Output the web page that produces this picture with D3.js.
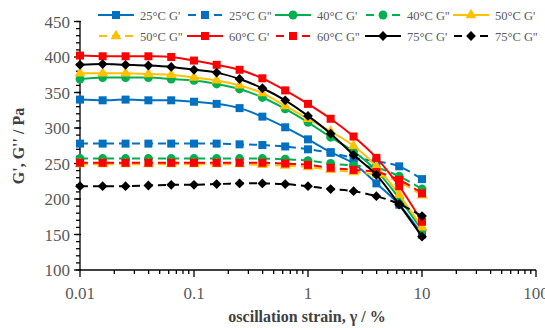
<!DOCTYPE html>
<html>
<head>
<meta charset="utf-8">
<script src="https://cdn.jsdelivr.net/npm/d3@7"></script>
<style>
  body { margin: 0; background: #fff; }
  svg { display: block; font-family: "Liberation Serif", "Times New Roman", serif; }
</style>
</head>
<body>
<div id="chart"></div>
<script>
// oscillation strain (%) for each measured point
const strain = [0.01, 0.0158, 0.0251, 0.0398, 0.0631, 0.1, 0.158, 0.251, 0.398, 0.631, 1, 1.58, 2.51, 3.98, 6.31, 10];

const g25Storage = [340, 339, 340, 339, 339, 337, 334, 328, 316, 301, 284, 266, 250, 222, 192, 150];
const g25Loss    = [278, 278, 278, 278, 278, 278, 278, 277, 276, 274, 270, 265, 258, 253, 246, 228];
const g40Storage = [369, 371, 371, 371, 369, 367, 362, 355, 343, 327, 308, 287, 267, 240, 201, 156];
const g40Loss    = [257, 257, 257, 257, 257, 257, 257, 257, 257, 256, 254, 250, 247, 244, 232, 214];
const g50Storage = [377, 377, 377, 376, 375, 371, 367, 360, 349, 331, 313, 295, 275, 246, 206, 160];
const g50Loss    = [249, 249, 249, 249, 249, 249, 249, 249, 248, 247, 245, 241, 238, 234, 224, 205];
const g60Storage = [402, 401, 401, 401, 400, 395, 389, 382, 370, 353, 334, 313, 288, 258, 218, 168];
const g60Loss    = [251, 251, 251, 251, 251, 251, 251, 251, 251, 250, 248, 244, 241, 238, 227, 208];
const g75Storage = [389, 390, 389, 388, 386, 382, 378, 369, 356, 339, 317, 292, 262, 234, 192, 147];
const g75Loss    = [218, 218, 218, 219, 220, 220, 221, 222, 222, 221, 218, 214, 211, 204, 193, 176];

const xTicks = [0.01, 0.1, 1, 10, 100];
const yTicks = [100, 150, 200, 250, 300, 350, 400, 450];

const series = [
  { name: "25°C G'",  values: g25Storage, color: "#0070C0", dashed: false, mark: "square" },
  { name: "25°C G''", values: g25Loss,    color: "#0070C0", dashed: true,  mark: "square" },
  { name: "40°C G'",  values: g40Storage, color: "#00B050", dashed: false, mark: "circle" },
  { name: "40°C G''", values: g40Loss,    color: "#00B050", dashed: true,  mark: "circle" },
  { name: "50°C G'",  values: g50Storage, color: "#FFC000", dashed: false, mark: "triangle" },
  { name: "50°C G''", values: g50Loss,    color: "#FFC000", dashed: true,  mark: "triangle" },
  { name: "60°C G'",  values: g60Storage, color: "#FF0000", dashed: false, mark: "square" },
  { name: "60°C G''", values: g60Loss,    color: "#FF0000", dashed: true,  mark: "square" },
  { name: "75°C G'",  values: g75Storage, color: "#000000", dashed: false, mark: "diamond" },
  { name: "75°C G''", values: g75Loss,    color: "#000000", dashed: true,  mark: "diamond" }
];

const width = 545, height = 328;
const x = d3.scaleLog().domain([0.01, 100]).range([80, 536]);
const y = d3.scaleLinear().domain([100, 450]).range([270, 21.5]);

const svg = d3.select("#chart").append("svg")
  .attr("width", width)
  .attr("height", height);

function symbolPath(mark) {
  if (mark === "circle") return d3.symbol(d3.symbolCircle, 62)();
  if (mark === "triangle") return d3.symbol(d3.symbolTriangle, 52)();
  if (mark === "diamond") return d3.symbol(d3.symbolSquare, 48)();
  return d3.symbol(d3.symbolSquare, 64)();
}

// axes
const tickColor = "#595959";
const xAxis = svg.append("g").attr("transform", `translate(0,${y(100)})`);
xAxis.append("line").attr("x1", x(0.01)).attr("x2", x(100)).attr("stroke", "#000").attr("stroke-width", 1.3);
const xMinor = [];
for (let dec = 0.01; dec < 100; dec *= 10) for (let k = 2; k < 10; k++) xMinor.push(+(dec * k).toPrecision(3));
xAxis.selectAll(".minor").data(xMinor).join("line")
  .attr("x1", d => x(d)).attr("x2", d => x(d)).attr("y1", 0).attr("y2", 4)
  .attr("stroke", "#000").attr("stroke-width", 1.3);
xAxis.selectAll(".major").data(xTicks).join("line")
  .attr("x1", d => x(d)).attr("x2", d => x(d)).attr("y1", 0).attr("y2", 7)
  .attr("stroke", "#000").attr("stroke-width", 1.3);
xAxis.selectAll("text").data(xTicks).join("text")
  .attr("x", d => x(d)).attr("y", 29)
  .attr("text-anchor", "middle").attr("fill", tickColor).attr("font-size", 17)
  .text(d => d3.format("~g")(d));

const yAxis = svg.append("g").attr("transform", `translate(${x(0.01)},0)`);
yAxis.append("line").attr("y1", y(100)).attr("y2", y(450)).attr("stroke", "#000").attr("stroke-width", 1.3);
yAxis.selectAll(".minor").data(d3.range(100, 451, 10)).join("line")
  .attr("y1", d => y(d)).attr("y2", d => y(d)).attr("x1", -4).attr("x2", 0)
  .attr("stroke", "#000").attr("stroke-width", 1.3);
yAxis.selectAll(".major").data(yTicks).join("line")
  .attr("y1", d => y(d)).attr("y2", d => y(d)).attr("x1", -6).attr("x2", 1)
  .attr("stroke", "#000").attr("stroke-width", 1.3);
yAxis.selectAll("text").data(yTicks).join("text")
  .attr("x", -10).attr("y", d => y(d) + 6)
  .attr("text-anchor", "end").attr("fill", tickColor).attr("font-size", 17)
  .text(d => d);

// axis titles
svg.append("text")
  .attr("x", 307).attr("y", 322)
  .attr("text-anchor", "middle").attr("font-weight", "bold").attr("font-size", 16).attr("fill", "#404040")
  .text("oscillation strain, γ / %");
svg.append("text")
  .attr("transform", `translate(24,146) rotate(-90)`)
  .attr("text-anchor", "middle").attr("font-weight", "bold").attr("font-size", 16).attr("fill", "#404040")
  .text("G', G'' / Pa");

// data
const line = d3.line().x(d => x(d[0])).y(d => y(d[1])).curve(d3.curveCatmullRom);
const plot = svg.append("g");
series.forEach(s => {
  const pts = strain.map((v, i) => [v, s.values[i]]);
  const g = plot.append("g");
  g.append("path").attr("d", line(pts))
    .attr("fill", "none").attr("stroke", s.color).attr("stroke-width", 2)
    .attr("stroke-dasharray", s.dashed ? "8,5" : null);
  g.selectAll("path.m").data(pts).join("path").attr("class", "m")
    .attr("d", symbolPath(s.mark))
    .attr("transform", d => `translate(${x(d[0])},${y(d[1])})${s.mark === "diamond" ? " rotate(45)" : ""}`)
    .attr("fill", s.color);
});

// legend
const legendX = [98, 187, 275, 365, 453];
const legendY = [15, 36];
const legend = svg.append("g");
series.forEach((s, i) => {
  const lx = legendX[i % 5], ly = legendY[Math.floor(i / 5)];
  const g = legend.append("g").attr("transform", `translate(${lx},${ly})`);
  g.append("line").attr("x1", 0).attr("x2", 36).attr("y1", 0).attr("y2", 0)
    .attr("stroke", s.color).attr("stroke-width", 2)
    .attr("stroke-dasharray", s.dashed ? "8,5" : null)
    .attr("stroke-dashoffset", s.dashed ? -1 : null);
  g.append("path").attr("d", symbolPath(s.mark))
    .attr("transform", `translate(18,0)${s.mark === "diamond" ? " rotate(45)" : ""}`)
    .attr("fill", s.color);
  g.append("text").attr("x", 42).attr("y", 4.5)
    .attr("fill", tickColor).attr("font-size", 12.5)
    .text(s.name);
});
</script>
</body>
</html>
